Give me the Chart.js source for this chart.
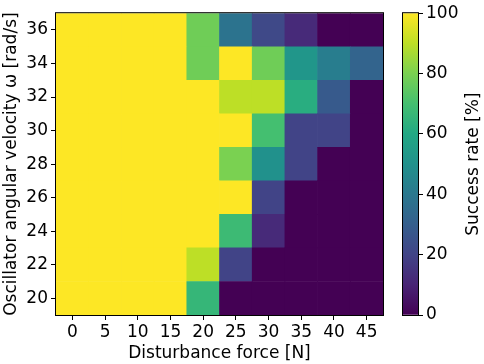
<!DOCTYPE html>
<html><head><meta charset="utf-8">
<script src="https://cdn.jsdelivr.net/npm/chart.js@4"></script>
<style>html,body{margin:0;padding:0;background:#fff;}#wrap{position:relative;width:484px;height:364px;}canvas{position:absolute;left:0;top:0;}</style>
</head><body><div id="wrap"><canvas id="main" width="484" height="364"></canvas><canvas id="cbar" width="484" height="364"></canvas></div>
<script>
// ---- data ----
const forceLabels = ['0','5','10','15','20','25','30','35','40','45'];
const omegaValues = [20,22,24,26,28,30,32,34,36];
const rate20 = [100,100,100,100,66,0,0,0,0,0];
const rate22 = [100,100,100,100,90,20,0,0,0,0];
const rate24 = [100,100,100,100,100,68,12,0,0,0];
const rate26 = [100,100,100,100,100,100,20,0,0,0];
const rate28 = [100,100,100,100,100,80,50,20,0,0];
const rate30 = [100,100,100,100,100,100,70,20,20,0];
const rate32 = [100,100,100,100,100,90,90,62,28,0];
const rate34 = [100,100,100,100,78,100,78,52,42,32];
const rate36 = [100,100,100,100,78,38,22,12,0,0];
const rateRows = [rate20,rate22,rate24,rate26,rate28,rate30,rate32,rate34,rate36];
const cbarTicks = [0,20,40,60,80,100];

// ---- viridis colormap ----
const VIR = ['#440154','#482475','#414487','#355f8d','#2a788e','#21918c','#22a884','#44bf70','#7ad151','#bddf26','#fde725'];
function hex(h){return [1,3,5].map(i=>parseInt(h.substr(i,2),16));}
function viridis(v){
  let t=Math.max(0,Math.min(1,v/100))*10; let i=Math.min(9,Math.floor(t)); let f=t-i;
  const a=hex(VIR[i]), b=hex(VIR[i+1]);
  const c=a.map((x,k)=>Math.round(x+(b[k]-x)*f));
  return `rgb(${c[0]},${c[1]},${c[2]})`;
}

Chart.defaults.font.family = 'DejaVu Sans';
Chart.defaults.font.size = 17;
Chart.defaults.color = '#000';
Chart.defaults.animation = false;

const frame = {id:'frame', afterDraw(c){const a=c.chartArea,x=c.ctx;x.save();x.strokeStyle='#000';x.lineWidth=1;
  x.strokeRect(a.left-0.5,a.top-0.5,a.right-a.left+1,a.bottom-a.top+1);x.restore();}};

const datasets = omegaValues.map((w,ri)=>({
  label: String(w),
  data: rateRows[ri].map(()=>[w-1,w+1]),
  backgroundColor: rateRows[ri].map(viridis),
  borderWidth: 0,
  barPercentage: 1, categoryPercentage: 1,
  grouped: false
}));

const tickGrid = {display:true, drawOnChartArea:false, drawTicks:true, tickLength:5, color:'#000', lineWidth:1};

new Chart(document.getElementById('main'), {
  type:'bar',
  data:{labels:forceLabels, datasets},
  options:{
    responsive:false,
    layout:{padding:{top:11,right:101,left:1,bottom:0}},
    plugins:{legend:{display:false},tooltip:{enabled:false}},
    scales:{
      x:{type:'category', grid:{...tickGrid, offset:false}, border:{display:false},
         ticks:{padding:2, maxRotation:0, autoSkip:false},
         title:{display:true,text:'Disturbance force [N]',padding:{top:0,bottom:0}},
         afterFit(s){s.height=49;}},
      y:{type:'linear', min:19, max:37, grid:tickGrid, border:{display:false},
         ticks:{padding:3},
         afterBuildTicks(s){s.ticks=omegaValues.map(v=>({value:v}));},
         title:{display:true,text:'Oscillator angular velocity ω [rad/s]',padding:{top:0,bottom:0}},
         afterFit(s){s.width=55;}}
    }
  },
  plugins:[frame]
});

const cbTitle = {id:'cbTitle', afterDraw(c){const a=c.chartArea,x=c.ctx;x.save();x.fillStyle='#000';x.font='17px "DejaVu Sans"';
  x.translate(474,(a.top+a.bottom)/2);x.rotate(-Math.PI/2);x.textAlign='center';x.textBaseline='middle';x.fillText('Success rate [%]',0,0);x.restore();}};

new Chart(document.getElementById('cbar'), {
  type:'bar',
  data:{labels:[''], datasets:[{data:[[0,100]], borderWidth:0, barPercentage:1, categoryPercentage:1,
    backgroundColor(ctx){const a=ctx.chart.chartArea; if(!a) return '#888';
      const g=ctx.chart.ctx.createLinearGradient(0,a.bottom,0,a.top); VIR.forEach((c,i)=>g.addColorStop(i/10,c)); return g;}}]},
  options:{
    responsive:false,
    layout:{padding:{top:11,left:403,right:0,bottom:49}},
    plugins:{legend:{display:false},tooltip:{enabled:false}},
    scales:{
      x:{display:false},
      y:{position:'right', min:0, max:100, grid:tickGrid, border:{display:false},
         ticks:{padding:3},
         afterBuildTicks(s){s.ticks=cbarTicks.map(v=>({value:v}));},
         afterFit(s){s.width=66;}}
    }
  },
  plugins:[frame, cbTitle]
});
</script></body></html>
